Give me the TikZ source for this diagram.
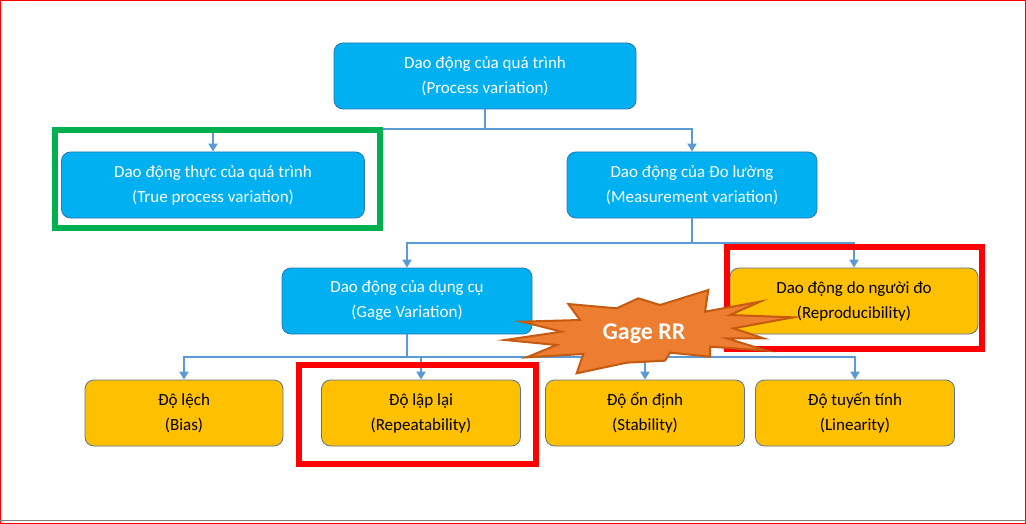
\documentclass[tikz,border=0pt]{standalone}
\usepackage{fontspec}
\setmainfont{Carlito}
\usetikzlibrary{arrows.meta}
\definecolor{bbox}{HTML}{00B0F0}
\definecolor{bline}{HTML}{2E75B6}
\definecolor{ybox}{HTML}{FFC000}
\definecolor{yline}{HTML}{5F7391}
\definecolor{conn}{HTML}{5B9BD5}
\definecolor{star}{HTML}{ED7D31}
\definecolor{starline}{HTML}{C55A11}
\definecolor{hlred}{HTML}{FF0000}
\definecolor{hlgreen}{HTML}{00B050}
\begin{document}
\begin{tikzpicture}[x=1pt,y=-1pt,
  box/.style={rounded corners=9pt,line width=0.8pt,align=center,font=\fontsize{17}{25}\selectfont,inner sep=0pt},
  bluebox/.style={box,fill=bbox,draw=bline,text=white},
  yelbox/.style={box,fill=ybox,draw=yline,text=black},
  conline/.style={draw=conn,line width=2.6pt},
  conarr/.style={conline,-{Triangle[length=8pt,width=9pt]}},
  hl/.style={line width=6pt}]
\useasboundingbox (0,0) rectangle (1026,524);
\fill[white] (0,0) rectangle (1026,524);
\draw[hlred,line width=1pt] (0.5,0.5) rectangle (1025.5,523.5);
\draw[gray,line width=1pt] (0,520.5) -- (1026,520.5);

\node[bluebox,minimum width=302pt,minimum height=66pt] (top) at (485,76) {Dao động của quá trình\\(Process variation)};
\node[bluebox,minimum width=303pt,minimum height=66pt] (true) at (213,185) {Dao động thực của quá trình\\(True process variation)};
\node[bluebox,minimum width=250pt,minimum height=66pt] (meas) at (692,185) {Dao động của Đo lường\\(Measurement variation)};
\node[bluebox,minimum width=250pt,minimum height=66pt] (gage) at (407,301) {Dao động của dụng cụ\\(Gage Variation)};
\node[yelbox,minimum width=248pt,minimum height=66pt] (repro) at (854,301) {Dao động do người đo\\(Reproducibility)};
\node[yelbox,minimum width=198pt,minimum height=66pt] (bias) at (184,413) {Độ lệch\\(Bias)};
\node[yelbox,minimum width=199pt,minimum height=66pt] (rep) at (421,413) {Độ lập lại\\(Repeatability)};
\node[yelbox,minimum width=199pt,minimum height=66pt] (stab) at (645,413) {Độ ổn định\\(Stability)};
\node[yelbox,minimum width=199pt,minimum height=66pt] (lin) at (855,413) {Độ tuyến tính\\(Linearity)};

\coordinate (j1) at (485,129);
\coordinate (j2) at (692,243);
\coordinate (j3) at (407,357);
\draw[conline] (top.south) -- (j1);
\draw[conarr] (j1) -| (true.north);
\draw[conarr] (j1) -| (meas.north);
\draw[conline] (meas.south) -- (j2);
\draw[conarr] (j2) -| (gage.north);
\draw[conarr] (j2) -| (repro.north);
\draw[conline] (gage.south) -- (j3);
\foreach \n in {bias,rep,stab,lin} \draw[conarr] (j3) -| (\n.north);

\draw[hlgreen,hl] (55,130) rectangle (380,228);
\draw[hlred,hl] (727,247) rectangle (982,349);
\draw[hlred,hl] (299,365) rectangle (536,464);

\begin{scope}[shift={(500,230)},scale=1/3]
\draw[fill=star,draw=starline,line width=2pt] (15,330) -- (185,305) -- (65,275) -- (240,270) -- (205,222) -- (350,235) -- (415,205) -- (480,225) -- (625,180) -- (615,245) -- (780,215) -- (690,255) -- (880,262) -- (700,295) -- (790,325) -- (680,325) -- (800,362) -- (630,350) -- (630,380) -- (510,368) -- (495,392) -- (380,398) -- (230,430) -- (250,372) -- (80,382) -- (170,345) -- cycle;
\end{scope}
\node[text=white,font=\fontsize{24}{28}\selectfont\bfseries] (gr) at (644,334) {Gage RR};
\end{tikzpicture}
\end{document}
